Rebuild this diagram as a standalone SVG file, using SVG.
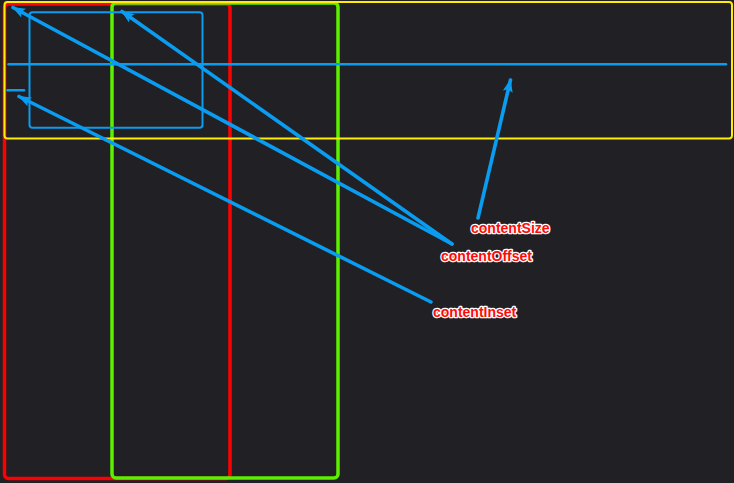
<svg xmlns="http://www.w3.org/2000/svg" width="734" height="483" viewBox="0 0 734 483">
<style>
.box{fill:none;}
.arrow{stroke:#0a9cf0;stroke-width:3.6;fill:none;stroke-linecap:round;marker-end:url(#ah);}
.lbl{font-family:"Liberation Sans",Arial,sans-serif;font-weight:bold;font-size:14px;fill:#ff0a0a;stroke:#ffffff;stroke-width:2.6;paint-order:stroke;stroke-linejoin:round;}
</style>
<defs>
<marker id="ah" markerUnits="userSpaceOnUse" markerWidth="16" markerHeight="12" refX="12" refY="6" orient="auto">
<path d="M0,1 L13,6 L0,11 L2.5,6 Z" fill="#0a9cf0"/>
</marker>
</defs>
<rect width="734" height="483" fill="#212125"/>
<g id="redBox"><rect class="box" x="4.5" y="4" width="225.5" height="474.5" rx="4" stroke="#ff0000" stroke-width="3.5"/></g>
<g id="greenBox"><rect class="box" x="112" y="3" width="226" height="475" rx="4" stroke="#5cf000" stroke-width="3.5"/></g>
<g id="yellowBox"><rect class="box" x="4.5" y="2" width="727.5" height="136.5" rx="3" stroke="#ffee00" stroke-width="2"/></g>
<g id="blueBox"><rect class="box" x="29.5" y="12.3" width="173" height="115.5" rx="3" stroke="#0a9cf0" stroke-width="2"/></g>
<g id="contentSizeLine"><line x1="8.5" y1="64.2" x2="726" y2="64.2" stroke="#0a9cf0" stroke-width="2.5" stroke-linecap="round"/></g>
<g id="insetMark"><line x1="7.5" y1="90.3" x2="24" y2="90.3" stroke="#0a9cf0" stroke-width="2.5" stroke-linecap="round"/></g>
<g id="connectors">
<line class="arrow" x1="478" y1="218" x2="510.5" y2="80"/>
<line class="arrow" x1="452" y1="244" x2="13" y2="7.5"/>
<line class="arrow" x1="452" y1="244" x2="122" y2="11.5"/>
<line class="arrow" x1="431" y1="302" x2="19" y2="96.5"/>
</g>
<g id="labelSize"><text class="lbl" x="471" y="233">contentSize</text></g>
<g id="labelOffset"><text class="lbl" x="441" y="261">contentOffset</text></g>
<g id="labelInset"><text class="lbl" x="433" y="317">contentInset</text></g>
</svg>
